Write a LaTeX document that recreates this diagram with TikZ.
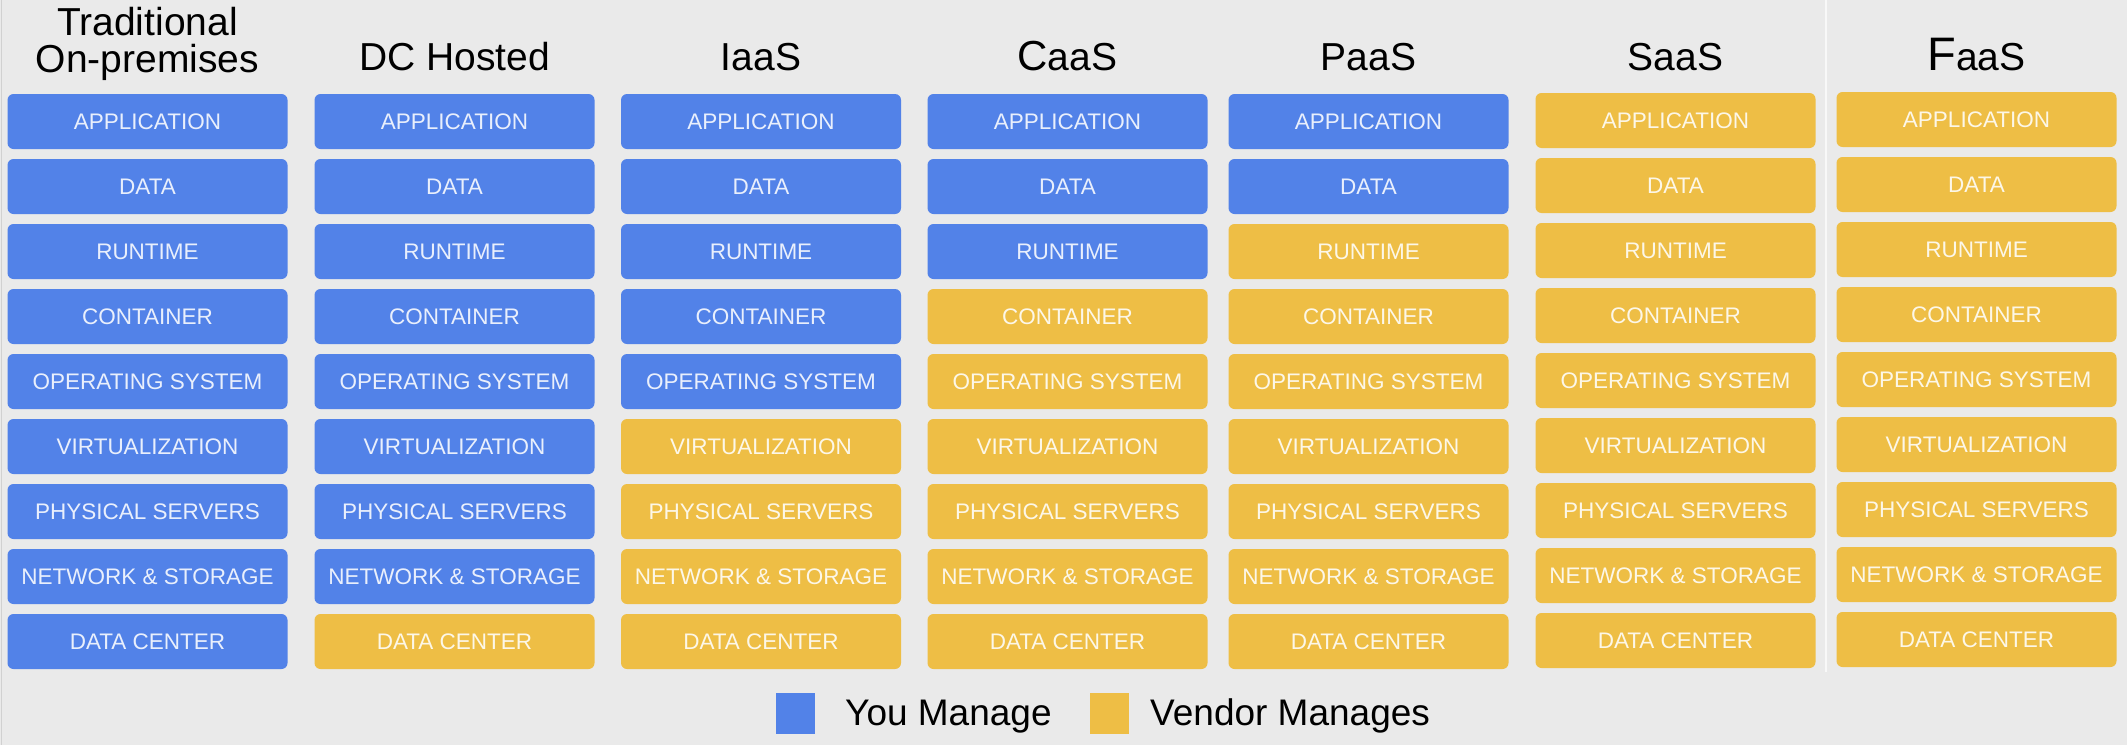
\documentclass[tikz,border=0pt]{standalone}
\usepackage{fontspec}
\setmainfont{Liberation Sans}
\definecolor{bg}{HTML}{EAEAEA}
\definecolor{you}{HTML}{5282E8}
\definecolor{vendor}{HTML}{EEBE45}
\begin{document}
\begin{tikzpicture}[x=1pt,y=-1pt,
  layer/.style={rounded corners=6pt, minimum width=280pt, minimum height=55pt,
    inner sep=0pt, text=white, text opacity=0.88,
    font=\fontsize{22.5}{23}\selectfont, text height=16.1pt, text depth=0pt},
  coltitle/.style={inner sep=0pt, anchor=base, font=\fontsize{39}{41}\selectfont},
  legbox/.style={minimum width=39pt, minimum height=41pt, inner sep=0pt},
  legtext/.style={inner sep=0pt, anchor=base west, font=\fontsize{37}{39}\selectfont}]
\fill[bg] (0,0) rectangle (2127,745);
\useasboundingbox (0,0) rectangle (2127,745);
\draw[black!18, line width=1.2pt] (1.5,0) -- (1.5,745);
\draw[white!65!bg, line width=1.5pt] (1826,0) -- (1826,672);
% columns of layers
\foreach \i/\cx/\dy/\nb in {1/147.5/0/9, 2/454.5/0/8, 3/761/0/5, 4/1067.5/0/3, 5/1368.5/0/2, 6/1675.5/-1/0, 7/1976.5/-2/0}{
  \foreach \lbl [count=\r] in {APPLICATION, DATA, RUNTIME, CONTAINER, OPERATING SYSTEM, VIRTUALIZATION, PHYSICAL SERVERS, {NETWORK \& STORAGE}, DATA CENTER}{
    \pgfmathsetmacro\cy{121.5+65*(\r-1)+\dy}
    \ifnum\r>\nb\relax\def\fc{vendor}\else\def\fc{you}\fi
    \node[layer, fill=\fc] (c\i-\r) at (\cx,\cy) {\lbl};
  }
}
% titles
\node[coltitle] (t1a) at (147.5,35) {Traditional};
\node[coltitle] (t1b) at (147.5,72) {On-premises};
\node[coltitle] (t2) at (454.5,70) {DC Hosted};
\node[coltitle] (t3) at (761,70) {IaaS};
\node[coltitle] (t4) at (1067.5,70) {{\fontsize{42}{42}\selectfont C}aaS};
\node[coltitle] (t5) at (1368.5,70) {PaaS};
\node[coltitle] (t6) at (1675.5,70) {SaaS};
\node[coltitle] (t7) at (1976.5,70) {{\fontsize{47}{47}\selectfont F}aaS};
% legend
\node[legbox, fill=you] (ly) at (795.5,713.5) {};
\node[legtext] (lyt) at (845,725) {You Manage};
\node[legbox, fill=vendor] (lv) at (1109,713.5) {};
\node[legtext] (lvt) at (1150,725) {Vendor Manages};
\end{tikzpicture}
\end{document}
